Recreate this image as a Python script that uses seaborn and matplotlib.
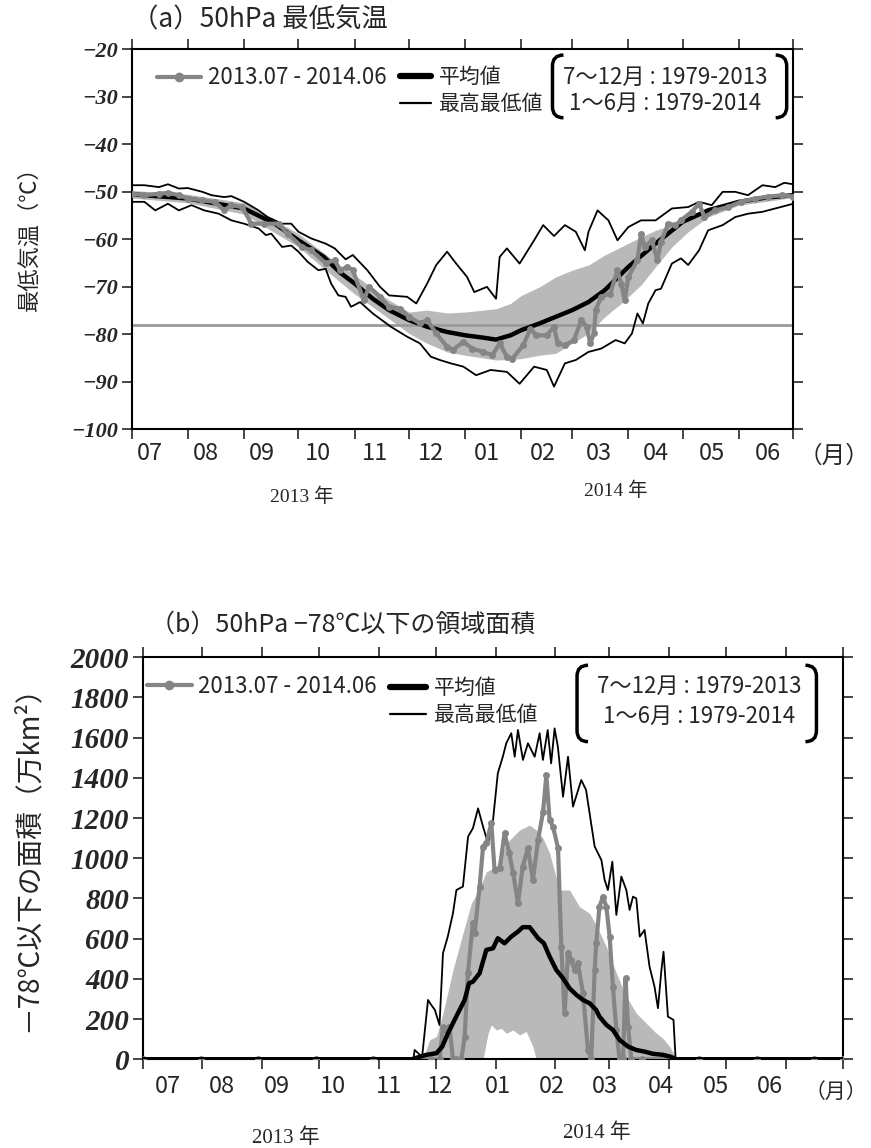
import matplotlib
matplotlib.use("Agg")
import matplotlib.pyplot as plt
from matplotlib.path import Path
from matplotlib.patches import PathPatch
from matplotlib.lines import Line2D
import seaborn as sns

# ---- axis layout values ----
month_start = [0, 31, 62, 92, 123, 153, 184, 215, 243, 274, 304, 335, 365]
month_labels = ["07", "08", "09", "10", "11", "12", "01", "02", "03", "04", "05", "06"]
# label anchors (days) used by each panel; the lower panel's labels are packed a little tighter
a_label_pos = [10, 41, 72, 103, 134, 165, 196, 227, 258, 289, 320, 351]
b_label_pos = [13, 41, 70, 99, 128, 155, 185, 213, 241, 270, 299, 327]

# ---- (a) 50hPa minimum temperature (days since 2013-07-01) ----
t_obs_day = [0, 7, 15, 20, 26, 31, 39, 46, 51, 55, 61, 66, 73, 81, 86, 94, 99, 107, 112, 115,
             119, 122, 128, 131, 137, 142, 148, 153, 159, 163, 168, 174, 177, 183, 188, 194, 199, 203, 207, 210,
             216, 220, 223, 229, 233, 235, 239, 244, 248, 251, 253, 255, 256, 259, 264, 268, 270, 272, 274, 279,
             281, 283, 287, 290, 292, 296, 300, 303, 309, 313, 316, 322, 329, 336, 344, 351, 359, 365]
t_obs = [-50.4, -50.7, -50.4, -50.2, -50.7, -51.4, -51.8, -52.1, -53.9, -52.8,
         -53.2, -56.7, -56.7, -56.7, -58.8, -61.6, -62.3, -65.0, -64.4, -66.5,
         -65.8, -66.5, -72.8, -70.0, -72.1, -74.2, -74.6, -76.3, -77.7, -77.0,
         -79.8, -82.6, -83.3, -81.6, -83.0, -83.7, -84.4, -81.9, -84.7, -85.1,
         -82.3, -78.8, -80.2, -80.2, -78.4, -81.9, -82.3, -81.2, -77.0, -78.4,
         -81.9, -79.8, -74.9, -72.1, -71.4, -66.5, -69.3, -72.8, -67.9, -64.4,
         -58.8, -61.6, -60.2, -64.4, -60.5, -56.7, -57.0, -56.0, -54.2, -52.5,
         -55.3, -53.9, -53.2, -52.1, -51.4, -51.0, -50.7, -51.0]

t_mean_day = [0, 31, 62, 79, 92, 106, 115, 123, 133, 142, 153, 163, 174, 184, 194,
              201, 209, 215, 225, 234, 243, 252, 261, 274, 289, 304, 318, 335, 350, 365]
t_mean = [-50.5, -51.4, -53.5, -56.7, -60.2, -63.7, -67.0, -69.3, -72.5, -74.9, -77.0, -78.4, -79.5, -80.2, -80.7,
          -81.1, -80.2, -79.1, -77.7, -76.3, -74.9, -73.2, -70.7, -65.8, -60.9, -56.3, -53.9, -52.1, -51.2, -50.7]

t_band_day = [0, 31, 62, 92, 115, 123, 142, 153, 163, 174, 184, 201, 209, 215,
              225, 234, 243, 252, 261, 270, 281, 289, 298, 307, 318, 335, 365]
t_band_hi = [-49.7, -50.5, -52.3, -58.8, -65.5, -67.5, -72.8, -75.3, -74.9, -75.5, -75.3, -74.6, -73.5, -71.8,
             -70.0, -67.9, -66.5, -65.4, -63.3, -61.6, -59.5, -58.1, -57.0, -55.3, -53.2, -51.8, -50.2]
t_band_lo = [-51.3, -52.3, -54.7, -61.6, -69.0, -71.5, -76.7, -79.8, -81.9, -83.7, -84.4, -85.4, -85.3, -85.1,
             -84.4, -84.0, -81.9, -79.8, -76.3, -73.5, -69.6, -65.8, -61.6, -58.4, -55.3, -52.8, -51.2]

t_max_day = [0, 7, 15, 20, 26, 31, 39, 44, 51, 55, 62, 70, 75, 83, 88, 92, 99, 107, 112, 118,
             122, 130, 137, 142, 152, 157, 163, 168, 174, 179, 185, 189, 196, 201, 203, 207, 214, 222, 227, 233,
             239, 245, 250, 252, 257, 263, 268, 274, 281, 289, 298, 307, 313, 320, 326, 333, 340, 348, 355, 360, 365]
t_max = [-48.6, -48.6, -49.0, -48.4, -49.3, -49.2, -50.0, -50.7, -51.1, -50.9,
         -52.1, -53.9, -55.3, -56.7, -56.7, -58.4, -59.8, -60.9, -61.9, -64.2,
         -63.3, -66.5, -70.0, -71.8, -72.1, -73.5, -69.3, -65.4, -62.6, -65.1,
         -67.9, -71.1, -70.0, -72.5, -63.7, -61.9, -65.1, -60.2, -57.0, -59.3,
         -57.0, -58.4, -62.3, -58.4, -53.9, -56.0, -60.2, -57.4, -56.0, -56.0,
         -53.5, -53.2, -52.1, -52.8, -50.0, -50.0, -50.7, -48.6, -49.0, -48.1, -48.4]

t_min_day = [0, 7, 13, 20, 26, 33, 40, 48, 55, 62, 70, 74, 77, 83, 88, 92, 97, 103, 107, 110,
             114, 118, 121, 126, 133, 143, 152, 159, 165, 170, 176, 183, 190, 198, 207, 214, 222, 229, 233, 239,
             245, 252, 259, 267, 272, 276, 279, 282, 285, 289, 292, 298, 303, 307, 313, 318, 326, 333, 340, 348,
             355, 365]
t_min = [-52.1, -52.1, -53.9, -52.5, -53.9, -52.8, -53.9, -54.6, -56.0, -56.7,
         -57.7, -59.1, -58.8, -61.6, -61.3, -62.6, -64.7, -66.5, -66.2, -69.3,
         -71.8, -72.1, -74.2, -73.2, -75.6, -78.4, -80.5, -81.9, -84.7, -85.4,
         -86.1, -86.8, -88.6, -87.5, -87.9, -90.4, -86.8, -87.5, -91.0, -86.1,
         -85.4, -83.7, -83.0, -81.2, -81.9, -79.8, -75.6, -77.7, -73.5, -70.7,
         -70.4, -65.1, -64.0, -65.4, -62.3, -58.1, -57.0, -55.3, -54.6, -54.2,
         -53.5, -52.5]

t_threshold = -78
t_yticks = [-100, -90, -80, -70, -60, -50, -40, -30, -20]

# ---- (b) area colder than -78C (10^4 km2) ----
b_obs_day = [0, 30, 60, 90, 120, 150, 154.6, 156.4, 158, 159.8, 161.6, 163.4, 166, 167.7, 169.4, 172, 172.9,
             175.5, 177.3, 179, 181.6, 183.3, 186, 188.5, 191, 193, 195.5, 198, 200.7, 203.3, 206, 208.6, 210.3,
             212, 213.8, 216.4, 218.1, 219.8, 221.6, 223.3, 225, 226.8, 229.4, 232, 233.7, 235.5, 236.3, 238,
             239.8, 241.6, 243.3, 245, 246.8, 248.5, 250.3, 251.6, 252.9, 254.6, 260, 290, 320, 350, 365]
b_obs = [0, 0, 0, 0, 0, 0, 0, 162, 146, 162, 0, 0, 0, 113, 428, 677, 627,
         859, 1058, 1074, 1174, 942, 950, 1124, 1025, 925, 776, 958, 1050, 892, 1091, 1232, 1414,
         1190, 1157, 1050, 560, 229, 527, 494, 444, 477, 328, 46, 0, 444, 577, 759,
         809, 759, 610, 361, 146, 0, 0, 403, 162, 0, 0, 0, 0, 0, 0]

b_mean_day = [0, 140, 147.7, 153, 156, 159, 163.3, 167.7, 170, 172, 175.5, 179, 182.5, 185, 188.5, 192,
              195.5, 198, 201.6, 206, 209, 212, 215.5, 219, 222.4, 226, 229.4, 232.8, 236.3, 238, 241.6,
              245, 248.5, 252.9, 257.2, 261.5, 265.9, 271, 275, 278, 365]
b_mean = [0, 0, 22, 30, 63, 129, 212, 295, 378, 386, 428, 544, 552, 602, 577, 610,
          635, 657, 657, 602, 577, 511, 444, 403, 353, 320, 295, 279, 245, 212, 171,
          146, 96, 63, 46, 38, 27, 22, 13, 0, 0]

b_band_day = [0, 146, 149.4, 153, 156.4, 161.6, 166.8, 171.2, 175.5, 179, 184.2, 189.4, 196.4, 201.6, 205,
              208.5, 212, 217.2, 222.4, 227.6, 232.8, 236.3, 241.6, 246.8, 252, 257.2, 262.4, 267.7, 271.1,
              274.6, 277, 278, 365]
b_band_hi = [0, 0, 96, 113, 229, 444, 627, 776, 851, 933, 958, 1074, 1141, 1165, 1141,
             1100, 1025, 842, 842, 759, 726, 668, 560, 428, 312, 229, 179, 129, 104,
             63, 22, 0, 0]
# part of the band where mean - sigma stays above zero
b_band_lo_day = [177.3, 179.9, 181.6, 184.2, 186.8, 189.4, 192.9, 196.4, 199.8, 203.3, 205]
b_band_lo = [0, 129, 171, 146, 154, 129, 146, 121, 138, 63, 0]

b_max_day = [0, 141, 141.6, 143.5, 145.5, 148.6, 150.3, 152.2, 154.6, 156.4, 158.9, 161.6, 163.4, 166.8,
             169.5, 172, 174.7, 177.3, 179.9, 182.5, 185, 187.6, 189.4, 192, 193.8, 195.5, 198.1, 200.7,
             204.2, 206.8, 208.5, 211, 212.8, 214.6, 216.3, 219, 221.6, 224.2, 228.5, 231, 235.5, 239,
             240.7, 242.4, 244.7, 246.8, 249.4, 252, 253.7, 255.5, 257.2, 259, 261.5, 264.1, 266.7, 268.5,
             270.3, 271.4, 273.7, 276.6, 277.7, 365]
b_max = [0, 0, 46, 30, 10, 295, 270, 245, 170, 527, 610, 726, 842, 859,
         1108, 1149, 1248, 1157, 1074, 1190, 1423, 1505, 1572, 1622, 1505, 1638, 1489, 1572,
         1505, 1622, 1489, 1638, 1472, 1646, 1555, 1306, 1505, 1257, 1389, 1340, 1058, 991,
         892, 842, 983, 718, 909, 842, 743, 809, 800, 610, 643, 461, 361, 254,
         444, 535, 212, 196, 0, 0]

b_yticks = [0, 200, 400, 600, 800, 1000, 1200, 1400, 1600, 1800, 2000]

OBS_GRAY = "#858585"
BAND_GRAY = "#b9b9b9"

sns.set_style("ticks")
plt.rcParams["font.family"] = ["Noto Sans CJK JP", "DejaVu Sans"]
SERIF_BI = dict(family=["Liberation Serif", "DejaVu Serif"], weight="bold", style="italic")
YEAR_FONT = ["Liberation Serif", "Noto Sans CJK JP"]


def bracket(ax, x0, x1, y0, y1, rpx=11):
    """Rounded brackets ( ... ) around the period note, in axes coords."""
    bb = ax.get_window_extent()
    rx = rpx / bb.width
    ry = rpx / bb.height
    codes = [Path.MOVETO, Path.CURVE3, Path.CURVE3, Path.LINETO, Path.CURVE3, Path.CURVE3]
    for xe, s in [(x0, 1), (x1, -1)]:
        verts = [(xe + s * rx, y1), (xe, y1), (xe, y1 - ry),
                 (xe, y0 + ry), (xe, y0), (xe + s * rx, y0)]
        ax.add_patch(PathPatch(Path(verts, codes), fill=False, lw=2.5, color="black",
                               transform=ax.transAxes, clip_on=False, zorder=10))


def style_axis(ax, yticks, ylim, label_pos, ysize, xpad):
    ax.set_xlim(0, 365)
    ax.set_ylim(*ylim)
    ax.set_xticks(month_start)
    ax.set_xticklabels([])
    ax.set_xticks(label_pos, minor=True)
    ax.set_xticklabels(month_labels, minor=True, fontsize=17)
    ax.tick_params(axis="x", which="minor", length=0, pad=xpad)
    ax.tick_params(axis="x", which="major", length=7, width=1.2, top=True, direction="out")
    ax.set_yticks(yticks)
    ax.set_yticklabels([str(v).replace("-", "\u2212") for v in yticks], fontsize=ysize, **SERIF_BI)
    ax.tick_params(axis="y", length=7, width=1.2, right=True, direction="out", pad=3)
    for sp in ax.spines.values():
        sp.set_visible(True)
        sp.set_linewidth(1.5)
        sp.set_color("black")
    ax.set_xlabel("")
    ax.set_ylabel("")


def add_legend(ax, y1, y2, x_obs, x_mean, mean_len, br, note_x):
    h_obs = Line2D([], [], color=OBS_GRAY, lw=3, marker="o", markersize=7, markeredgewidth=0)
    leg1 = ax.legend([h_obs], ["2013.07 - 2014.06"], loc="center left", bbox_to_anchor=(x_obs, y1),
                     frameon=False, fontsize=16, handlelength=2.0, handletextpad=0.3,
                     borderpad=0, borderaxespad=0)
    ax.add_artist(leg1)
    h_mean = Line2D([], [], color="black", lw=4.5)
    h_mm = Line2D([], [], color="black", lw=1.6)
    ax.legend([h_mean, h_mm], ["平均値", "最高最低値"], loc="center left",
              bbox_to_anchor=(x_mean, (y1 + y2) / 2), frameon=False, fontsize=15,
              handlelength=mean_len, handletextpad=0.38, labelspacing=0.25, borderpad=0, borderaxespad=0)
    bracket(ax, *br)
    ax.text(note_x, y1, "7〜12月 : 1979-2013", transform=ax.transAxes, ha="center", va="center", fontsize=16)
    ax.text(note_x, y2, "1〜6月 : 1979-2014", transform=ax.transAxes, ha="center", va="center", fontsize=16)


fig = plt.figure(figsize=(8.71, 11.48), dpi=100)
ax1 = fig.add_axes([0.1512, 0.6260, 0.7596, 0.3310])
ax2 = fig.add_axes([0.1642, 0.0773, 0.8037, 0.3502])

# ---- panel (a) ----
ax1.fill_between(t_band_day, t_band_lo, t_band_hi, color=BAND_GRAY, lw=0, zorder=1)
ax1.axhline(t_threshold, color="#9a9a9a", lw=2, zorder=2)
sns.lineplot(x=t_max_day, y=t_max, ax=ax1, color="black", lw=1.3, errorbar=None, zorder=3)
sns.lineplot(x=t_min_day, y=t_min, ax=ax1, color="black", lw=1.3, errorbar=None, zorder=3)
sns.lineplot(x=t_mean_day, y=t_mean, ax=ax1, color="black", lw=3.2, errorbar=None, zorder=4)
sns.lineplot(x=t_obs_day, y=t_obs, ax=ax1, color=OBS_GRAY, lw=3, marker="o", markersize=5,
             markeredgewidth=0, errorbar=None, zorder=5)
style_axis(ax1, t_yticks, (-100, -20), a_label_pos, 16, 9)
add_legend(ax1, 0.925, 0.858, 0.038, 0.4057, 1.5, (0.636, 0.99, 0.82, 0.985), 0.806)
ax1.text(1.061, -0.071, "（月）", transform=ax1.transAxes, ha="center", va="center", fontsize=17)
ax1.text(0.257, -0.178, "2013 年", transform=ax1.transAxes, ha="center", va="center", fontsize=14,
         family=YEAR_FONT)
ax1.text(0.731, -0.162, "2014 年", transform=ax1.transAxes, ha="center", va="center", fontsize=14,
         family=YEAR_FONT)

# ---- panel (b) ----
ax2.fill_between(b_band_day, 0, b_band_hi, color=BAND_GRAY, lw=0, zorder=1)
ax2.fill_between(b_band_lo_day, 0, b_band_lo, color="white", lw=0, zorder=1.5)
sns.lineplot(x=b_max_day, y=b_max, ax=ax2, color="black", lw=1.3, errorbar=None, zorder=3)
sns.lineplot(x=b_obs_day, y=b_obs, ax=ax2, color=OBS_GRAY, lw=3, marker="o", markersize=5,
             markeredgewidth=0, errorbar=None, zorder=4)
sns.lineplot(x=b_mean_day, y=b_mean, ax=ax2, color="black", lw=3.2, errorbar=None, zorder=5)
style_axis(ax2, b_yticks, (0, 2000), b_label_pos, 21, 11)
add_legend(ax2, 0.927, 0.852, 0.006, 0.353, 1.7, (0.62, 0.962, 0.79, 0.98), 0.794)
ax2.text(0.99, -0.08, "（月）", transform=ax2.transAxes, ha="center", va="center", fontsize=15)
ax2.text(0.204, -0.196, "2013 年", transform=ax2.transAxes, ha="center", va="center", fontsize=15,
         family=YEAR_FONT)
ax2.text(0.649, -0.183, "2014 年", transform=ax2.transAxes, ha="center", va="center", fontsize=15,
         family=YEAR_FONT)

# titles and y labels
fig.text(0.1515, 0.9826, "（a）50hPa 最低気温", ha="left", va="center", fontsize=19)
fig.text(0.172, 0.456, "（b）50hPa −78℃以下の領域面積", ha="left", va="center", fontsize=18)
fig.text(0.034, 0.797, "最低気温（℃）", rotation=90, ha="center", va="center", fontsize=16)
fig.text(0.032, 0.258, "－78℃以下の面積（万km²）", rotation=90, ha="center", va="center", fontsize=20)

fig.savefig("out.png", dpi=100)
